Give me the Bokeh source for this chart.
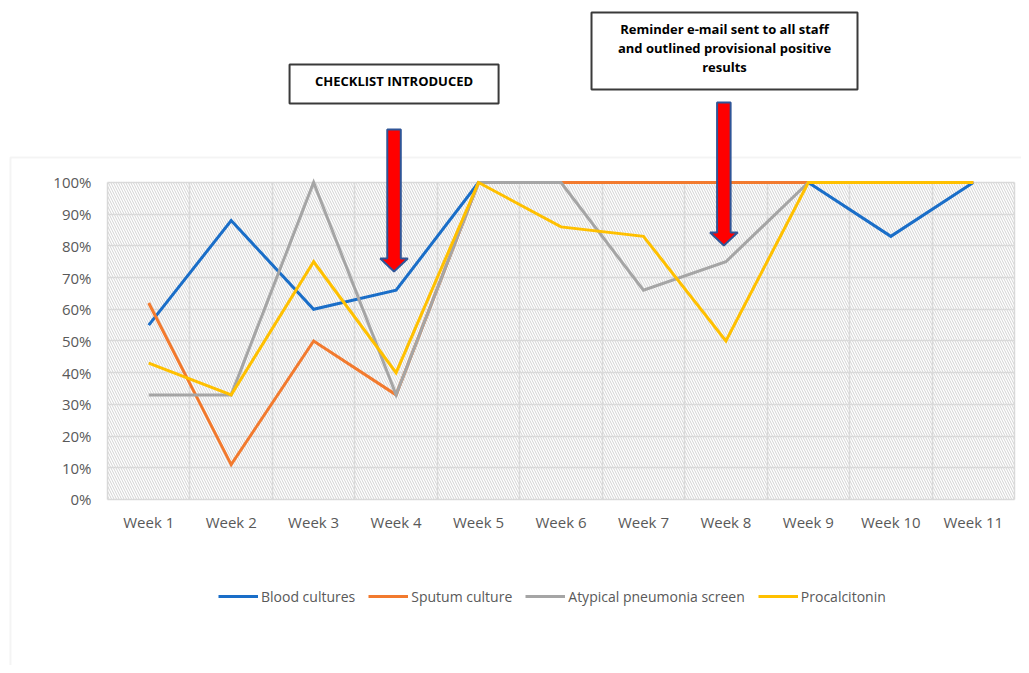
from bokeh.plotting import figure
from bokeh.models import (FixedTicker, NumeralTickFormatter, Legend, LegendItem,
                          BoxAnnotation, PolyAnnotation, Label)
from bokeh.embed import file_html
from bokeh.resources import INLINE

weeks = ["Week 1", "Week 2", "Week 3", "Week 4", "Week 5", "Week 6",
         "Week 7", "Week 8", "Week 9", "Week 10", "Week 11"]
blood_cultures = [0.55, 0.88, 0.60, 0.66, 1.00, 1.00, 1.00, 1.00, 1.00, 0.83, 1.00]
sputum_culture = [0.62, 0.11, 0.50, 0.33, 1.00, 1.00, 1.00, 1.00, 1.00, 1.00, 1.00]
atypical_screen = [0.33, 0.33, 1.00, 0.33, 1.00, 1.00, 0.66, 0.75, 1.00, 1.00, 1.00]
procalcitonin = [0.43, 0.33, 0.75, 0.40, 1.00, 0.86, 0.83, 0.50, 1.00, 1.00, 1.00]

series_names = ["Blood cultures", "Sputum culture", "Atypical pneumonia screen", "Procalcitonin"]
series_values = [blood_cultures, sputum_culture, atypical_screen, procalcitonin]
series_colors = ["#1a6ec8", "#f27a2e", "#a5a5a5", "#ffc000"]

y_ticks = [i / 10 for i in range(11)]

annot_texts = ["CHECKLIST INTRODUCED",
               "Reminder e-mail sent to all staff\nand outlined provisional positive\nresults"]

FONT = "Open Sans"
TXT = "#595959"

x = list(range(1, len(weeks) + 1))
x_lo, x_hi = 0.5, len(weeks) + 0.5

# canvas-wide frame; the plotting area (0.5..11.5 x 0..1) sits inside it
p = figure(width=1021, height=665, output_backend="svg", toolbar_location=None,
           x_range=(-0.7977, 11.5849), y_range=(-0.5237, 1.5741),
           min_border=0)
p.outline_line_color = None
p.background_fill_color = "white"
p.border_fill_color = "white"

# outer chart border (left and top edges visible)
p.add_layout(BoxAnnotation(left=-0.676, right=20, top=1.079, bottom=-3,
                           fill_color=None, line_color="#d9d9d9", line_width=2,
                           level="image"))

# hatched plot area
p.add_layout(BoxAnnotation(left=x_lo, right=x_hi, bottom=0, top=1,
                           fill_color="white", fill_alpha=1, line_color=None,
                           hatch_pattern="\\", hatch_color="#d2d2d2",
                           hatch_scale=5, hatch_weight=1, level="image"))

# axes at fixed locations
p.xaxis.fixed_location = 0
p.yaxis.fixed_location = x_lo
p.xaxis.ticker = FixedTicker(ticks=x)
p.xaxis.major_label_overrides = {i: w for i, w in zip(x, weeks)}
p.yaxis.ticker = FixedTicker(ticks=y_ticks)
p.yaxis.formatter = NumeralTickFormatter(format="0%")
for ax in (p.xaxis[0], p.yaxis[0]):
    ax.axis_line_color = None
    ax.major_tick_line_color = None
    ax.minor_tick_line_color = None
    ax.major_label_text_font = FONT
    ax.major_label_text_font_size = "15px"
    ax.major_label_text_color = TXT
p.yaxis.major_label_standoff = 10
p.xaxis.major_label_standoff = 7

p.xgrid.ticker = FixedTicker(ticks=[v - 0.5 for v in x] + [x_hi])
p.ygrid.ticker = FixedTicker(ticks=y_ticks)
p.xgrid.cross_bounds = (0, 1)
p.ygrid.cross_bounds = (x_lo, x_hi)
for g in (p.xgrid[0], p.ygrid[0]):
    g.grid_line_color = "#d9d9d9"
    g.grid_line_width = 1.5
    g.level = "underlay"

items = []
for name, vals, col in zip(series_names, series_values, series_colors):
    r = p.line(x, vals, line_color=col, line_width=3, line_join="miter")
    items.append(LegendItem(label=name, renderers=[r]))

legend = Legend(items=items, orientation="horizontal", location=(218, 59),
                glyph_width=40, glyph_height=20, label_standoff=3, spacing=13,
                label_text_font=FONT, label_text_font_size="14px",
                label_text_color=TXT, border_line_color=None,
                background_fill_color=None, margin=0, padding=5)
p.add_layout(legend)

# arrows
arrow_specs = [(3.975, 0.719, 1.167), (7.975, 0.801, 1.252)]
shaft_hw, head_hw, head_h = 0.082, 0.167, 0.041
for ax_, tip, top in arrow_specs:
    xs = [ax_ - shaft_hw, ax_ + shaft_hw, ax_ + shaft_hw, ax_ + head_hw, ax_,
          ax_ - head_hw, ax_ - shaft_hw]
    ys = [top, top, tip + head_h, tip + head_h, tip, tip + head_h, tip + head_h]
    p.add_layout(PolyAnnotation(xs=xs, ys=ys, fill_color="#ff0000", fill_alpha=1,
                                line_color="#2f5597", line_alpha=1, line_width=2,
                                level="overlay"))

# text boxes
box_specs = [(2.708, 5.243, 1.372, 1.249), (6.370, 9.596, 1.536, 1.293)]
for (l, r_, t, b), txt in zip(box_specs, annot_texts):
    p.add_layout(BoxAnnotation(left=l, right=r_, top=t, bottom=b, fill_color="white",
                               fill_alpha=1, line_color="#3a3a3a", line_alpha=1,
                               line_width=2, level="overlay"))
    p.add_layout(Label(x=(l + r_) / 2, y=(t + b) / 2 + 0.01, text=txt,
                       text_align="center", text_baseline="middle", text_font=FONT,
                       text_font_style="bold", text_font_size="13px",
                       text_color="black", level="overlay", text_line_height=1.05))

open("out.html", "w").write(file_html(p, INLINE))
